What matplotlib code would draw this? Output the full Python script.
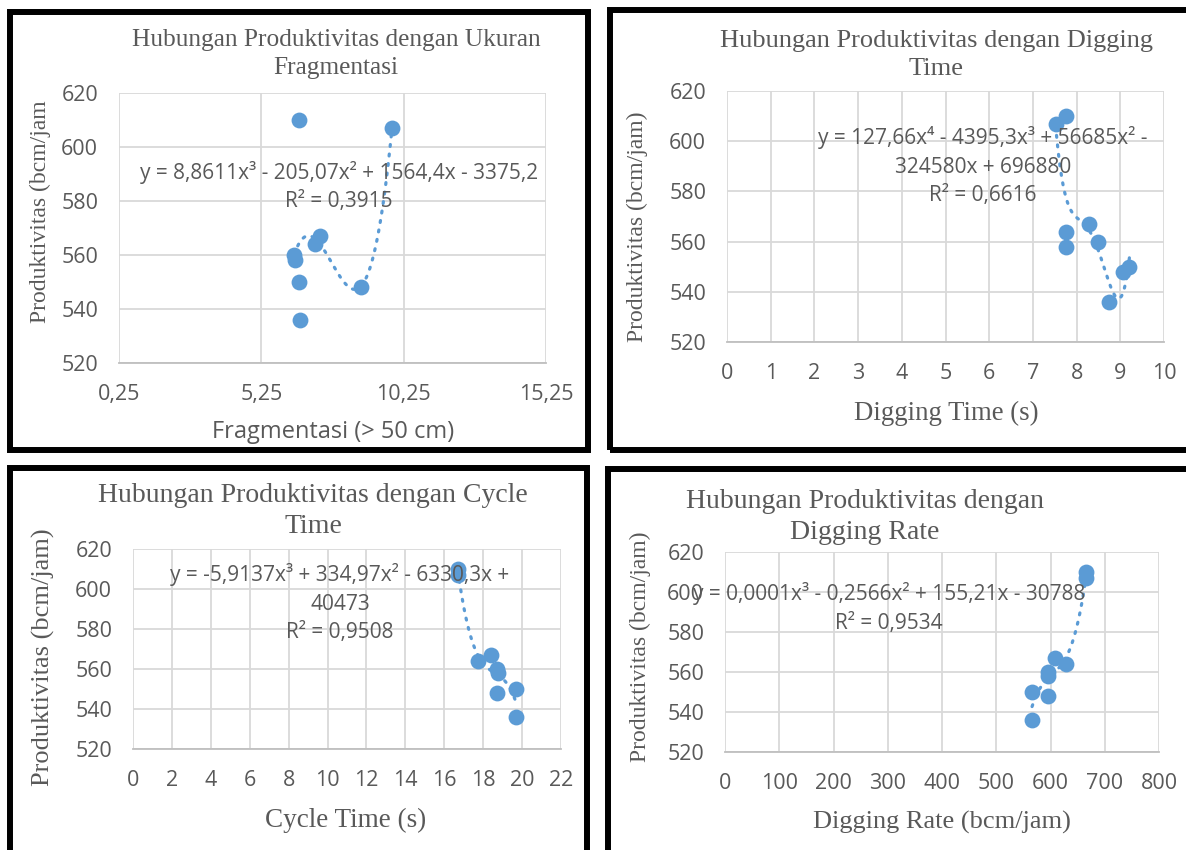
import numpy as np
import matplotlib.pyplot as plt
from matplotlib.patches import Rectangle

produktivitas = [610, 607, 567, 564, 560, 558, 550, 548, 536]
fragmentasi = [6.57, 9.84, 7.30, 7.14, 6.40, 6.44, 6.57, 8.74, 6.60]
digging_time = [7.75, 7.52, 8.28, 7.75, 8.49, 7.75, 9.21, 9.07, 8.73]
cycle_time = [16.70, 16.72, 18.38, 17.73, 18.72, 18.75, 19.71, 18.72, 19.71]
digging_rate = [666, 666, 609, 628, 595, 595, 566, 595, 566]

titles = ["Hubungan Produktivitas dengan Ukuran\nFragmentasi",
          "Hubungan Produktivitas dengan Digging\nTime",
          "Hubungan Produktivitas dengan Cycle\nTime",
          "Hubungan Produktivitas dengan\nDigging Rate"]
xlabels = ["Fragmentasi (> 50 cm)", "Digging Time (s)", "Cycle Time (s)",
           "Digging Rate (bcm/jam)"]
ylabels = ["Produktivitas (bcm/jam", "Produktivitas (bcm/jam)",
           "Produktivitas (bcm/jam)", "Produktivitas (bcm/jam)"]
equations = ["y = 8,8611x³ - 205,07x² + 1564,4x - 3375,2\nR² = 0,3915",
             "y = 127,66x⁴ - 4395,3x³ + 56685x² -\n324580x + 696880\nR² = 0,6616",
             "y = -5,9137x³ + 334,97x² - 6330,3x +\n40473\nR² = 0,9508",
             "y = 0,0001x³ - 0,2566x² + 155,21x - 30788\nR² = 0,9534"]
xticks = [[0.25, 5.25, 10.25, 15.25], list(range(0, 11)),
          list(range(0, 23, 2)), list(range(0, 801, 100))]
xtick_labels = [["0,25", "5,25", "10,25", "15,25"]] + [[str(v) for v in t] for t in xticks[1:]]
yticks = [520, 540, 560, 580, 600, 620]
degrees = [3, 4, 3, 3]

W, H = 1186, 850
blue = "#5B9BD5"
grey = "#595959"
serif = ["Liberation Serif", "DejaVu Serif"]
sans = ["Open Sans", "DejaVu Sans"]


def fx(px):
    return px / W


def fy(py):
    return 1 - py / H


fig = plt.figure(figsize=(W / 100, H / 100), dpi=100)

# axes boxes in pixels: left, top, right, bottom
boxes = [(119, 93, 546, 363), (727, 91, 1164, 342),
         (133, 549, 561, 749), (725, 552, 1159, 752)]
frames = [(10, 12, 588, 450), (610, 9.5, 1195, 450),
          (9.5, 468, 587, 860), (608, 469, 1195, 860)]
title_pos = [(336, 54), (936, 55), (313, 511), (865, 517)]
title_size = [18.3, 19, 20, 20]
xlabel_pos = [(333, 432), (946, 413), (346, 820), (942, 822)]
xlabel_size = [17, 19.3, 19.5, 19]
ylabel_pos = [(40, 212), (637, 227), (43, 657), (640, 647)]
ylabel_size = [17, 17, 19, 17]
eq_pos = [(7.98, 585.5), (5.86, 590.1), (10.64, 593), (302, 592)]

xdata = [fragmentasi, digging_time, cycle_time, digging_rate]

for i in range(4):
    l, t, r, b = boxes[i]
    ax = fig.add_axes([fx(l), fy(b), (r - l) / W, (b - t) / H])
    x = np.array(xdata[i])
    y = np.array(produktivitas)
    ax.scatter(x, y, s=130, color=blue, zorder=3, linewidths=0)
    p = np.polynomial.Polynomial.fit(x, y, degrees[i])
    xs = np.linspace(x.min(), x.max(), 200)
    ax.plot(xs, p(xs), color=blue, lw=2.3, ls=(0, (0.6, 2.4)),
            dash_capstyle="round", zorder=2)
    ax.set_xlim(xticks[i][0], xticks[i][-1])
    ax.set_ylim(520, 620)
    ax.set_xticks(xticks[i])
    ax.set_xticklabels(xtick_labels[i])
    ax.set_yticks(yticks)
    ax.grid(True, color="#D9D9D9", lw=1.3)
    ax.set_axisbelow(True)
    for s in ax.spines.values():
        s.set_visible(False)
    ax.spines["bottom"].set_visible(True)
    ax.spines["bottom"].set_color("#BFBFBF")
    ax.spines["bottom"].set_linewidth(1.3)
    ax.tick_params(length=0, pad=15, labelsize=15.5, labelcolor=grey)
    for lab in ax.get_xticklabels() + ax.get_yticklabels():
        lab.set_family(sans)
    ax.text(eq_pos[i][0], eq_pos[i][1], equations[i], ha="center", va="center",
            fontsize=15, color=grey, family=sans, linespacing=1.45, zorder=4)

    fig.text(fx(title_pos[i][0]), fy(title_pos[i][1]), titles[i], ha="center",
             va="center", fontsize=title_size[i], color=grey, family=serif,
             linespacing=1.33)
    fam = sans if i == 0 else serif
    fig.text(fx(xlabel_pos[i][0]), fy(xlabel_pos[i][1]), xlabels[i], ha="center",
             va="center", fontsize=xlabel_size[i], color=grey, family=fam)
    fig.text(fx(ylabel_pos[i][0]), fy(ylabel_pos[i][1]), ylabels[i], ha="center",
             va="center", rotation=90, fontsize=ylabel_size[i], color=grey,
             family=serif)

    fl, ft, fr, fb = frames[i]
    fig.add_artist(Rectangle((fx(fl), fy(fb)), (fr - fl) / W, (fb - ft) / H,
                             transform=fig.transFigure, fill=False,
                             edgecolor="black", lw=4.3))

fig.savefig("out.png", dpi=100)
